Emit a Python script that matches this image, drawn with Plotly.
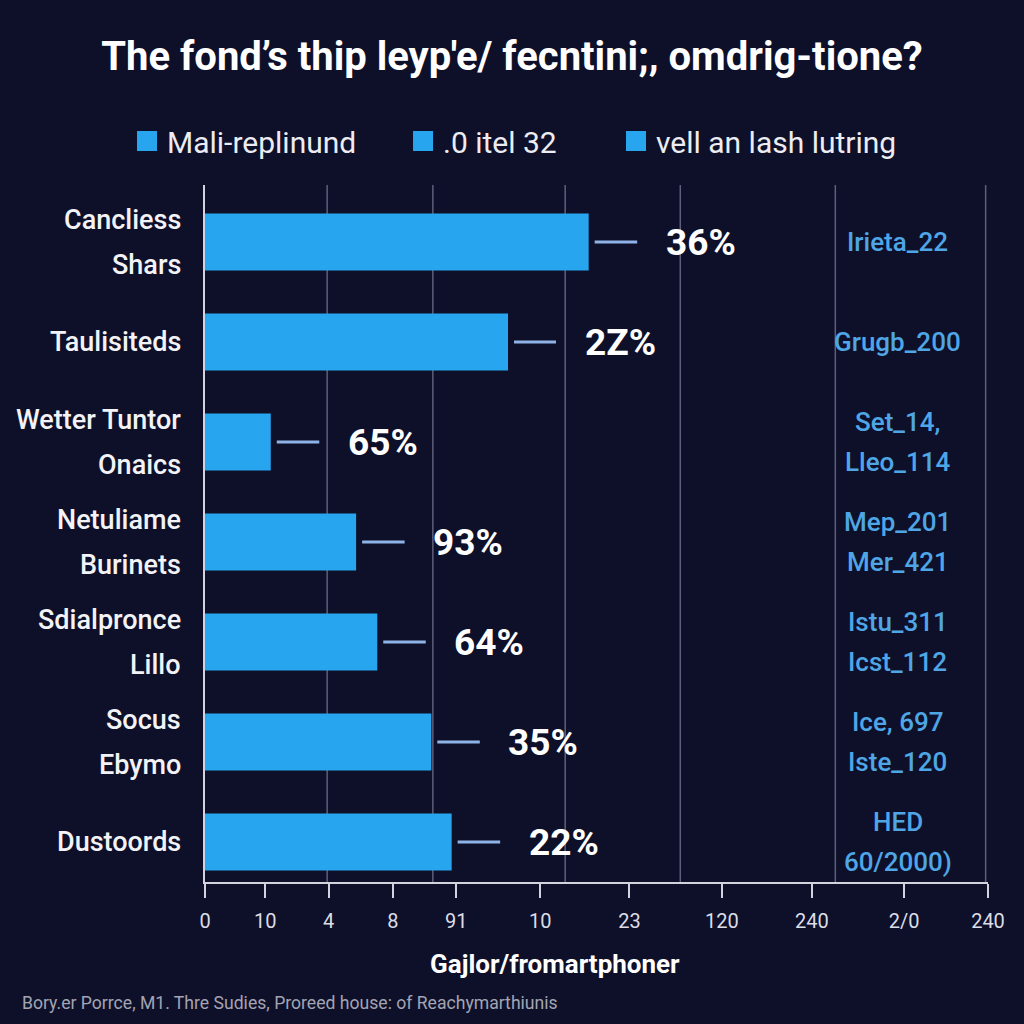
import plotly.graph_objects as go

# ---------------- data ----------------
title_text = "The fond’s thip leyp'e/ fecntini;, omdrig-tione?"
legend_names = ["Mali-replinund", ".0 itel 32", "vell an lash lutring"]
categories = [
    "Cancliess\nShars",
    "Taulisiteds",
    "Wetter Tuntor\nOnaics",
    "Netuliame\nBurinets",
    "Sdialpronce\nLillo",
    "Socus\nEbymo",
    "Dustoords",
]
values = [49.0, 38.7, 8.4, 19.3, 22.0, 28.9, 31.5]
value_labels = ["36%", "2Z%", "65%", "93%", "64%", "35%", "22%"]
side_notes = [
    "Irieta_22",
    "Grugb_200",
    "Set_14,\nLleo_114",
    "Mep_201\nMer_421",
    "Istu_311\nIcst_112",
    "Ice, 697\nIste_120",
    "HED\n60/2000)",
]
tick_vals = [0, 7.7, 15.8, 24.0, 32.1, 42.8, 54.2, 66.0, 77.5, 89.3, 100]
tick_text = ["0", "10", "4", "8", "91", "10", "23", "120", "240", "2/0", "240"]
grid_vals = [15.6, 29.1, 46.0, 60.7, 80.5, 99.7]
x_title = "Gajlor/fromartphoner"
source_text = "Bory.er Porrce, M1. Thre Sudies, Proreed house: of Reachymarthiunis"

# ---------------- style ----------------
bg = "#0e1029"
bar_color = "#27a5ef"
axis_col = "#d2d3de"
grid_col = "#5d5f7c"
leader_col = "#8fb3e6"
note_col = "#4fa6e6"
FONT = "Roboto"

fig = go.Figure()

fig.add_trace(go.Bar(
    x=values, y=categories, orientation="h",
    marker=dict(color=bar_color, line=dict(width=0)),
    showlegend=False, hoverinfo="skip",
))

legend_ids = ["legend", "legend2", "legend3"]
for name, lid in zip(legend_names, legend_ids):
    fig.add_trace(go.Scatter(
        x=[None], y=[None], mode="markers", name=name, legend=lid,
        marker=dict(symbol="square", size=16, color=bar_color,
                    line=dict(width=4, color=bar_color)),
        hoverinfo="skip", showlegend=True,
    ))

annotations = []


def add_lines(text, y, x, xref, xanchor, xshift, pitch, font, center_shift=0):
    lines = text.split("\n")
    n = len(lines)
    for k, line in enumerate(lines):
        shift = ((n - 1) / 2 - k) * pitch + center_shift
        annotations.append(dict(
            text=line, x=x, y=y, xref=xref, yref="y",
            xanchor=xanchor, yanchor="middle", xshift=xshift, yshift=shift,
            showarrow=False, font=font,
        ))


label_font = dict(family=FONT, size=27, color="#f3f3f7", weight=500)
note_font = dict(family=FONT, size=26, color=note_col, weight=500)
for cat, note in zip(categories, side_notes):
    add_lines(cat, cat, 0, "paper", "right", -22, 45, label_font)
    add_lines(note, cat, 88.5, "x", "center", 0, 40, note_font)

for cat, v, lab in zip(categories, values, value_labels):
    annotations.append(dict(
        x=v, y=cat, xref="x", yref="y", text=lab,
        showarrow=True, arrowhead=0, arrowwidth=3, arrowcolor=leader_col,
        ax=112, ay=0, axref="pixel", ayref="pixel", standoff=6, borderpad=28,
        xanchor="center", yanchor="middle",
        font=dict(family=FONT, size=37, color="#ffffff", weight="bold"),
    ))

annotations.append(dict(
    text=x_title, x=0.447, y=-0.1176, xref="paper", yref="paper",
    xanchor="center", yanchor="middle", showarrow=False,
    font=dict(family=FONT, size=26, color="#ffffff", weight="bold"),
))
annotations.append(dict(
    text=source_text, x=-0.2363, y=-0.1736, xref="paper", yref="paper",
    xanchor="left", yanchor="middle", showarrow=False,
    font=dict(family=FONT, size=17.6, color="#a3a4b4"),
))

shapes = [
    dict(type="line", xref="x", yref="paper", x0=g, x1=g, y0=0, y1=1,
         line=dict(color=grid_col, width=1.5), layer="below")
    for g in grid_vals
]

leg_common = dict(
    orientation="h", yanchor="middle", y=1.063, xanchor="left",
    bgcolor="rgba(0,0,0,0)", borderwidth=0,
    font=dict(family=FONT, size=30, color="#ececf2"),
)
legend_x = [-0.0996, 0.2529, 0.5249]

fig.update_layout(
    width=1024, height=1024,
    margin=dict(l=205, r=36, t=185, b=142),
    paper_bgcolor=bg, plot_bgcolor=bg,
    bargap=0.43,
    title=dict(
        text=title_text, x=0.5, xref="container", xanchor="center",
        y=1 - 56 / 1024, yref="container", yanchor="middle",
        font=dict(family=FONT, size=40, color="#ffffff", weight="bold"),
    ),
    xaxis=dict(
        range=[0, 100], tickvals=tick_vals, ticktext=tick_text,
        showgrid=False, zeroline=False, showline=True,
        linecolor=axis_col, linewidth=2,
        ticks="outside", ticklen=14, tickwidth=2, tickcolor=axis_col,
        tickfont=dict(family=FONT, size=20, color="#dcdde7"),
        ticklabelstandoff=6,
    ),
    yaxis=dict(
        range=[6.4, -0.57], categoryorder="array", categoryarray=categories,
        showticklabels=False, showgrid=False, zeroline=False,
        showline=True, linecolor=axis_col, linewidth=2, ticks="",
    ),
    annotations=annotations,
    shapes=shapes,
    legend=dict(x=legend_x[0], **leg_common),
    legend2=dict(x=legend_x[1], **leg_common),
    legend3=dict(x=legend_x[2], **leg_common),
)

fig.write_html("out.html")
